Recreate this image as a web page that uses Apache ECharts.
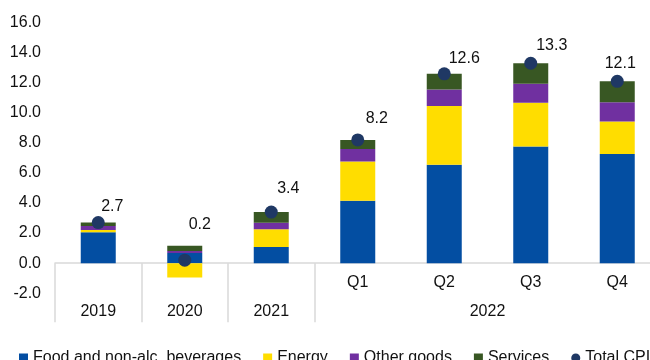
<!DOCTYPE html>
<html>
<head>
<meta charset="utf-8">
<script src="https://cdn.jsdelivr.net/npm/echarts@6/dist/echarts.min.js"></script>
<style>
  html, body { margin: 0; padding: 0; background: #ffffff; }
  #chart { width: 650px; height: 360px; }
</style>
</head>
<body>
<div id="chart"></div>
<script>
// Periods on the category axis and the year each one belongs to
const periods    = ['2019', '2020', '2021', 'Q1', 'Q2', 'Q3', 'Q4'];
const periodYear = ['2019', '2020', '2021', '2022', '2022', '2022', '2022'];

// Contributions to annual CPI inflation (percentage points)
const food     = [2.05, 0.68, 1.08, 4.15, 6.55, 7.77, 7.26];
const energy   = [0.15, -0.95, 1.18, 2.62, 3.90, 2.90, 2.17];
const other    = [0.27, 0.12, 0.42, 0.82, 1.11, 1.27, 1.27];
const services = [0.23, 0.35, 0.72, 0.61, 1.04, 1.36, 1.40];
const totalCpi = [2.7, 0.2, 3.4, 8.2, 12.6, 13.3, 12.1];

// Y axis ticks
const yMin = -2, yMax = 16, yStep = 2;

// Hand-placed label nudges for the total markers, [dx, dy] from the dot centre
const cpiLabelNudge = [[14, -16], [15, -36], [17, -23], [19, -21], [20, -15], [21, -18], [3, -18]];

const FONT = "'Liberation Sans', Arial, sans-serif";
const TEXT = '#111111';
const RULE = '#d9d9d9';

// Year groups: span of category slots covered by each year
const yearGroups = [];
periodYear.forEach((y, i) => {
  const last = yearGroups[yearGroups.length - 1];
  if (last && last.name === y) last.end = i + 1;
  else yearGroups.push({ name: y, start: i, end: i + 1 });
});
const yearCentres = yearGroups.map(g => (g.start + g.end) / 2);
const yearEdges = yearGroups.map(g => g.start);

const chart = echarts.init(document.getElementById('chart'), null, { renderer: 'canvas' });

function barSeries(name, values, color) {
  return {
    name: name,
    type: 'bar',
    stack: 'cpi',
    xAxisIndex: 0,
    barWidth: 35,
    itemStyle: { color: color },
    emphasis: { disabled: true },
    data: values
  };
}

chart.setOption({
  animation: false,
  textStyle: { fontFamily: FONT },
  grid: {
    left: 55, right: -10.5, top: 22.7, bottom: 66.8,
    containLabel: false,
    outerBoundsMode: 'none'
  },
  legend: {
    top: 345,
    left: 14,
    width: 700,
    itemGap: 22,
    itemWidth: 9,
    itemHeight: 9,
    textStyle: { fontFamily: FONT, fontSize: 16, color: TEXT },
    data: [
      { name: 'Food and non-alc. beverages', icon: 'rect' },
      { name: 'Energy', icon: 'rect' },
      { name: 'Other goods', icon: 'rect' },
      { name: 'Services', icon: 'rect' },
      { name: 'Total CPI', icon: 'circle' }
    ]
  },
  xAxis: [
    {
      // quarter labels, sitting just under the zero line
      type: 'category',
      data: periods,
      position: 'bottom',
      axisLine: { onZero: true, onZeroAxisIndex: 0, lineStyle: { color: RULE, width: 1.5 } },
      axisTick: { show: false },
      axisLabel: {
        margin: -19,
        fontSize: 16,
        color: TEXT,
        fontFamily: FONT,
        formatter: v => (v.charAt(0) === 'Q' ? v : '')
      }
    },
    {
      // year labels and the separators between year groups
      type: 'value',
      min: 0,
      max: periods.length,
      position: 'bottom',
      axisLine: { show: false, onZero: true, onZeroAxisIndex: 0 },
      splitLine: { show: false },
      axisTick: {
        show: true,
        customValues: yearEdges,
        length: 59,
        lineStyle: { color: RULE, width: 1.5 }
      },
      axisLabel: {
        customValues: yearCentres,
        margin: 10,
        fontSize: 16,
        color: TEXT,
        fontFamily: FONT,
        formatter: v => {
          const idx = yearCentres.findIndex(c => Math.abs(c - v) < 1e-6);
          return idx >= 0 ? yearGroups[idx].name : '';
        }
      }
    }
  ],
  yAxis: {
    type: 'value',
    min: yMin,
    max: yMax,
    interval: yStep,
    axisLine: { show: false },
    axisTick: { show: false },
    splitLine: { show: false },
    axisLabel: {
      margin: 14,
      fontSize: 16,
      color: TEXT,
      fontFamily: FONT,
      formatter: v => v.toFixed(1)
    }
  },
  series: [
    barSeries('Food and non-alc. beverages', food, '#034EA2'),
    barSeries('Energy', energy, '#FFDD00'),
    barSeries('Other goods', other, '#7030A0'),
    barSeries('Services', services, '#385723'),
    {
      name: 'Total CPI',
      type: 'scatter',
      xAxisIndex: 0,
      symbol: 'circle',
      symbolSize: 13,
      itemStyle: { color: '#1F3864', opacity: 1 },
      emphasis: { disabled: true },
      z: 5,
      data: totalCpi.map((v, i) => ({
        value: v,
        label: {
          show: true,
          position: 'inside',
          offset: cpiLabelNudge[i],
          formatter: p => p.value.toFixed(1),
          fontSize: 16,
          color: TEXT,
          fontFamily: FONT
        }
      }))
    }
  ]
});
</script>
</body>
</html>
